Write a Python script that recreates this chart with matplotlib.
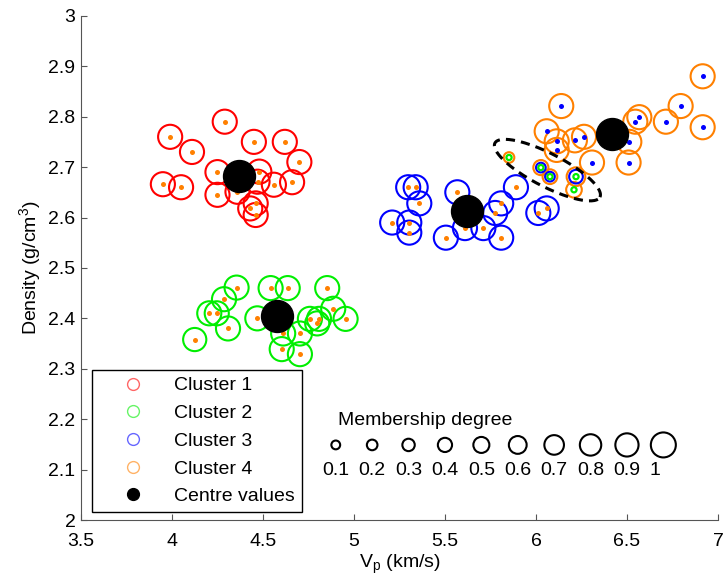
import numpy as np
import matplotlib.pyplot as plt
from matplotlib.lines import Line2D

plt.rcParams['font.family'] = ['Liberation Sans', 'DejaVu Sans']

# Cluster 1
c1_vp = [4.29, 3.99, 4.11, 4.45, 4.62, 4.70, 4.25, 3.95, 4.05, 4.25, 4.36, 4.66, 4.56, 4.48, 4.47, 4.46, 4.43, 4.46]
c1_rho = [2.79, 2.76, 2.73, 2.75, 2.75, 2.71, 2.69, 2.666, 2.66, 2.645, 2.651, 2.67, 2.665, 2.691, 2.671, 2.628, 2.618, 2.605]
c1_mu = [0.95, 0.95, 0.95, 0.95, 0.95, 0.95, 0.95, 0.95, 0.95, 0.95, 0.95, 0.95, 0.95, 0.95, 0.95, 0.95, 0.95, 0.95]

# Cluster 2
c2_vp = [4.355, 4.286, 4.205, 4.246, 4.308, 4.125, 4.542, 4.636, 4.853, 4.886, 4.954, 4.758, 4.808, 4.798, 4.703, 4.603, 4.703, 4.469, 4.611]
c2_rho = [2.461, 2.438, 2.410, 2.410, 2.380, 2.358, 2.460, 2.460, 2.460, 2.419, 2.399, 2.399, 2.399, 2.390, 2.370, 2.339, 2.329, 2.400, 2.370]
c2_mu = [0.95, 0.95, 0.95, 0.95, 0.95, 0.9, 0.95, 0.95, 0.95, 0.95, 0.95, 0.95, 0.95, 0.95, 0.95, 0.95, 0.95, 0.95, 0.95]

# Cluster 3
c3_vp = [5.298, 5.339, 5.359, 5.210, 5.304, 5.304, 5.568, 5.505, 5.610, 5.711, 5.809, 5.776, 5.809, 5.890, 6.013, 6.059]
c3_rho = [2.660, 2.660, 2.628, 2.590, 2.590, 2.570, 2.650, 2.560, 2.579, 2.579, 2.560, 2.609, 2.628, 2.660, 2.609, 2.618]
c3_mu = [0.95, 0.95, 0.95, 0.95, 0.95, 0.95, 0.95, 0.95, 0.95, 0.95, 0.95, 0.95, 0.95, 0.95, 0.95, 0.95]

# Cluster 4
c4_vp = [6.916, 6.795, 6.714, 6.916, 6.546, 6.568, 6.513, 6.509, 6.308, 6.139, 6.059, 6.114, 6.114, 6.214, 6.264]
c4_rho = [2.880, 2.821, 2.790, 2.779, 2.790, 2.799, 2.750, 2.709, 2.709, 2.821, 2.771, 2.751, 2.734, 2.753, 2.760]
c4_mu = [0.95, 0.95, 0.95, 0.95, 0.95, 0.95, 0.95, 0.95, 0.95, 0.95, 0.95, 0.95, 0.95, 0.95, 0.95]

# mixed points inside the dashed ellipse
mix_vp = [5.852, 6.027, 6.077, 6.220, 6.209]
mix_rho = [2.719, 2.699, 2.681, 2.681, 2.655]
mix_mu3 = [0.0, 0.15, 0.15, 0.37, 0.0]
mix_mu4 = [0.2, 0.45, 0.43, 0.65, 0.48]

# cluster centres
cen_vp = [4.368, 4.575, 5.623, 6.418]
cen_rho = [2.683, 2.405, 2.612, 2.765]

deg_levels = [0.1, 0.2, 0.3, 0.4, 0.5, 0.6, 0.7, 0.8, 0.9, 1.0]
deg_labels = ['0.1', '0.2', '0.3', '0.4', '0.5', '0.6', '0.7', '0.8', '0.9', '1']

FS = 14


def msize(mu):
    # membership degree -> marker area (pt^2)
    d_px = 7 + 18 * np.asarray(mu, dtype=float)
    return (d_px * 0.72) ** 2


fig = plt.figure(figsize=(7.23, 5.85), dpi=100)
ax = fig.add_axes([0.112, 0.111, 0.881, 0.862])

clusters = [
    (c1_vp, c1_rho, c1_mu, '#ff0000', '#ff8000'),
    (c2_vp, c2_rho, c2_mu, '#00ee00', '#ff8000'),
    (c3_vp, c3_rho, c3_mu, '#0000ff', '#ff8000'),
    (c4_vp, c4_rho, c4_mu, '#ff8000', '#0000ff'),
]
for vp, rho, mu, col, dot in clusters:
    ax.scatter(vp, rho, s=msize(mu), facecolors='none', edgecolors=col, linewidths=1.5, zorder=2)
    ax.scatter(vp, rho, s=13, color=dot, linewidths=0, zorder=3)

# mixed points
mix_vp = np.array(mix_vp)
mix_rho = np.array(mix_rho)
m4 = np.array(mix_mu4) > 0
m3 = np.array(mix_mu3) > 0
ax.scatter(mix_vp[m4], mix_rho[m4], s=msize(np.array(mix_mu4)[m4]), facecolors='none',
           edgecolors='#ff8000', linewidths=1.5, zorder=4)
ax.scatter(mix_vp[m3], mix_rho[m3], s=msize(np.array(mix_mu3)[m3]), facecolors='none',
           edgecolors='#0000ff', linewidths=1.5, zorder=4)
ax.scatter(mix_vp, mix_rho, s=14, facecolors='none', edgecolors='#00ee00', linewidths=1.6, zorder=5)

# centres
ax.scatter(cen_vp, cen_rho, s=23 ** 2, color='black', zorder=6)

# dashed ellipse around the mixed points
ell_c = (6.063, 2.694)
ell_a = (0.2885, -0.0536)
ell_b = (0.0412, 0.0292)
t = np.linspace(0, 2 * np.pi, 200)
ax.plot(ell_c[0] + ell_a[0] * np.cos(t) + ell_b[0] * np.sin(t),
        ell_c[1] + ell_a[1] * np.cos(t) + ell_b[1] * np.sin(t),
        color='black', lw=2.2, ls=(0, (3, 2)), zorder=7)

# membership degree key
key_x = 4.9 + 0.2 * np.arange(len(deg_levels))
ax.scatter(key_x, np.full(len(key_x), 2.149), s=msize(deg_levels), facecolors='none',
           edgecolors='black', linewidths=1.5, zorder=3)
for x, lab in zip(key_x, deg_labels):
    ax.text(x - 0.074, 2.098, lab, fontsize=FS, ha='left', va='center')
ax.text(4.912, 2.197, 'Membership degree', fontsize=FS, ha='left', va='center')

ax.set_xlim(3.5, 7)
ax.set_ylim(2, 3)
ax.set_xticks(np.arange(3.5, 7.01, 0.5))
ax.set_xticklabels(['3.5', '4', '4.5', '5', '5.5', '6', '6.5', '7'])
ax.set_yticks(np.arange(2, 3.01, 0.1))
ax.set_yticklabels(['2', '2.1', '2.2', '2.3', '2.4', '2.5', '2.6', '2.7', '2.8', '2.9', '3'])
ax.tick_params(direction='in', length=4.5, labelsize=FS, color='#555555')
ax.tick_params(axis='x', pad=9)
ax.tick_params(axis='y', pad=4)
for s in ['top', 'right']:
    ax.spines[s].set_visible(False)
for s in ['left', 'bottom']:
    ax.spines[s].set_color('#555555')
ax.set_xlabel('V$_\\mathregular{p}$ (km/s)', fontsize=FS, labelpad=2)
ax.set_ylabel('Density (g/cm$^\\mathregular{3}$)', fontsize=FS, labelpad=3)

handles = [
    Line2D([], [], ls='none', marker='o', mfc='none', mec='#ff0000', alpha=0.6, ms=8.5, mew=1),
    Line2D([], [], ls='none', marker='o', mfc='none', mec='#00ee00', alpha=0.6, ms=8.5, mew=1),
    Line2D([], [], ls='none', marker='o', mfc='none', mec='#0000ff', alpha=0.6, ms=8.5, mew=1),
    Line2D([], [], ls='none', marker='o', mfc='none', mec='#ff8000', alpha=0.6, ms=8.5, mew=1),
    Line2D([], [], ls='none', marker='o', color='black', ms=8.5),
]
labels = ['Cluster 1', 'Cluster 2', 'Cluster 3', 'Cluster 4', 'Centre values']
leg = ax.legend(handles, labels, loc='lower left', bbox_to_anchor=(0.0168, 0.0159),
                borderaxespad=0, fontsize=FS, fancybox=False, framealpha=1,
                edgecolor='black', labelspacing=0.52, handlelength=3.6, handletextpad=0.3,
                borderpad=0.35)
leg.get_frame().set_linewidth(1.0)

fig.savefig('out.png', dpi=100)
